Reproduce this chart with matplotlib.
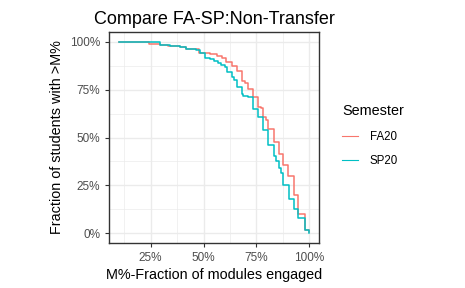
import matplotlib
matplotlib.use('Agg')
from matplotlib import pyplot as plt
from matplotlib.ticker import FixedLocator, PercentFormatter

plt.rcParams['font.family'] = ['Liberation Sans', 'DejaVu Sans']

# step points: x where the curve drops, y after the drop
fa20_x = [0.10, 0.242, 0.296, 0.332, 0.387, 0.418, 0.480, 0.512, 0.532, 0.562, 0.587,
          0.608, 0.633, 0.656, 0.680, 0.696, 0.708, 0.732, 0.755, 0.770, 0.779, 0.795,
          0.804, 0.831, 0.854, 0.876, 0.900, 0.925, 0.948, 0.977, 1.0]
fa20_y = [1.0, 0.988, 0.983, 0.977, 0.972, 0.962, 0.944, 0.941, 0.934, 0.927, 0.913,
          0.892, 0.875, 0.845, 0.796, 0.786, 0.751, 0.713, 0.660, 0.652, 0.605, 0.594,
          0.542, 0.476, 0.416, 0.354, 0.298, 0.202, 0.098, 0.016, 0.005]

sp20_x = [0.10, 0.296, 0.343, 0.387, 0.418, 0.465, 0.485, 0.509, 0.532, 0.551, 0.567,
          0.583, 0.603, 0.612, 0.633, 0.645, 0.656, 0.680, 0.688, 0.708, 0.732, 0.755,
          0.779, 0.804, 0.831, 0.842, 0.854, 0.867, 0.876, 0.903, 0.925, 0.948, 0.977, 1.0]
sp20_y = [1.0, 0.986, 0.977, 0.974, 0.962, 0.956, 0.944, 0.918, 0.908, 0.901, 0.887,
          0.878, 0.866, 0.840, 0.814, 0.803, 0.765, 0.727, 0.716, 0.713, 0.650, 0.605,
          0.538, 0.460, 0.402, 0.376, 0.343, 0.315, 0.251, 0.181, 0.124, 0.077, 0.019, 0.0035]

ticks = [0.25, 0.5, 0.75, 1.0]
yticks = [0, 0.25, 0.5, 0.75, 1.0]

fig = plt.figure(figsize=(4.65, 2.88), dpi=100)
ax = fig.add_axes([0.235, 0.157, 0.451, 0.731])

ax.step(fa20_x, fa20_y, where='post', color='#F8766D', lw=1.1, label='FA20')
ax.step(sp20_x, sp20_y, where='post', color='#00BFC4', lw=1.1, label='SP20')

ax.set_xlim(0.055, 1.045)
ax.set_ylim(-0.05, 1.05)
ax.xaxis.set_major_locator(FixedLocator(ticks))
ax.xaxis.set_minor_locator(FixedLocator([0.125, 0.375, 0.625, 0.875]))
ax.yaxis.set_major_locator(FixedLocator(yticks))
ax.yaxis.set_minor_locator(FixedLocator([0.125, 0.375, 0.625, 0.875]))
ax.xaxis.set_major_formatter(PercentFormatter(1.0, decimals=0))
ax.yaxis.set_major_formatter(PercentFormatter(1.0, decimals=0))

ax.grid(which='major', color='#EBEBEB', lw=1.0)
ax.grid(which='minor', color='#EBEBEB', lw=0.5)
ax.set_axisbelow(True)
for s in ax.spines.values():
    s.set_color('#333333')
    s.set_linewidth(1.0)
ax.tick_params(which='major', length=3, width=0.8, color='#333333',
               labelcolor='#4D4D4D', labelsize=8.5)
ax.tick_params(which='minor', length=0)

ax.set_xlabel('M%-Fraction of modules engaged', fontsize=10.4, labelpad=3)
ax.set_ylabel('Fraction of students with >M%', fontsize=10.4, labelpad=4)
ax.set_title('Compare FA-SP:Non-Transfer', fontsize=13, pad=6)

leg = ax.legend(title='Semester', loc='upper left', bbox_to_anchor=(1.06, 0.70),
                frameon=False, fontsize=8.3, title_fontsize=10.4, handlelength=1.4,
                handletextpad=1.0, labelspacing=1.0, alignment='left')
leg.get_title().set_y(2)
for h in leg.get_lines():
    h.set_linewidth(0.8)

fig.savefig('out.png', dpi=100)
